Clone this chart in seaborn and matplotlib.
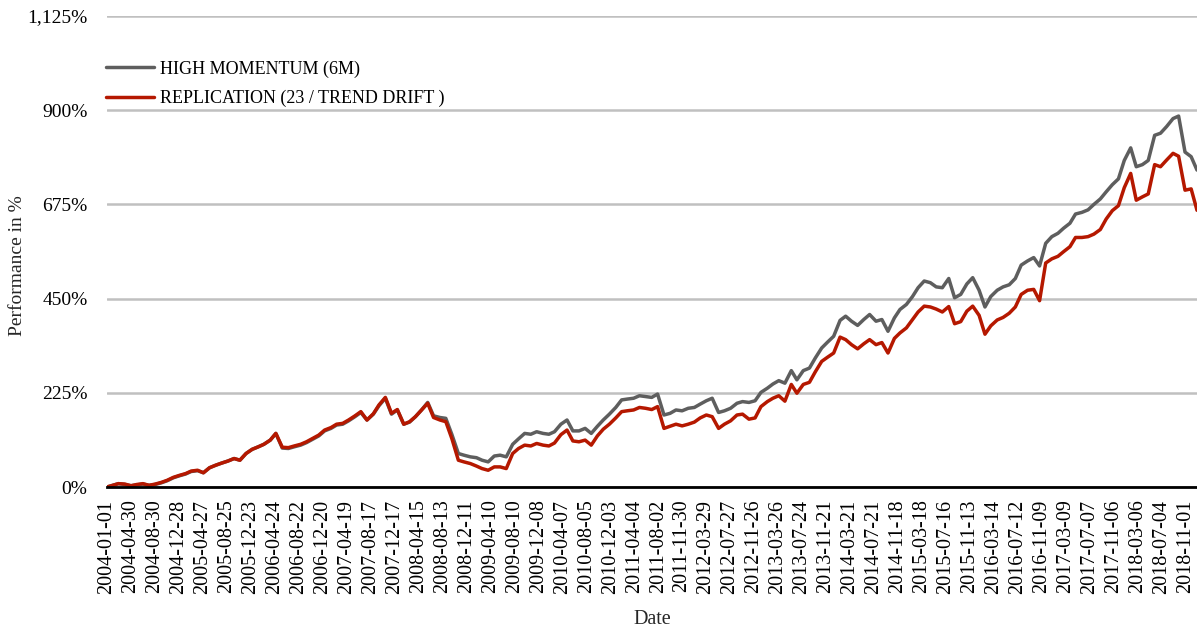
import numpy as np
import pandas as pd
import matplotlib
matplotlib.use("Agg")
import matplotlib.pyplot as plt
import seaborn as sns
from matplotlib.ticker import FuncFormatter

# ---------------- data (month-end values, % performance) ----------------
START = "2004-01-01"
END = "2018-12-31"
start_value = 0

hm_2004 = [4, 8, 6, 3, 5, 7, 4, 6, 10, 15, 22, 27]
hm_2005 = [31, 37, 39, 34, 46, 52, 57, 62, 68, 64, 80, 90]
hm_2006 = [96, 102, 112, 128, 93, 92, 96, 100, 106, 114, 122, 134]
hm_2007 = [140, 148, 150, 158, 168, 178, 160, 174, 194, 212, 174, 184]
hm_2008 = [150, 155, 168, 184, 202, 170, 166, 164, 125, 80, 76, 72]
hm_2009 = [70, 64, 60, 74, 76, 72, 102, 115, 128, 126, 132, 128]
hm_2010 = [126, 132, 150, 160, 134, 134, 140, 128, 145, 160, 174, 190]
hm_2011 = [208, 210, 212, 218, 216, 214, 222, 172, 176, 184, 182, 188]
hm_2012 = [190, 198, 206, 212, 178, 182, 188, 200, 204, 202, 206, 226]
hm_2013 = [236, 246, 254, 248, 278, 256, 278, 284, 308, 332, 346, 360]
hm_2014 = [398, 408, 396, 386, 400, 412, 396, 400, 372, 404, 424, 436]
hm_2015 = [455, 476, 492, 488, 478, 476, 498, 452, 460, 485, 500, 470]
hm_2016 = [430, 455, 470, 478, 483, 498, 530, 540, 548, 528, 582, 598]
hm_2017 = [606, 618, 630, 652, 656, 662, 675, 688, 705, 722, 736, 780]
hm_2018 = [810, 765, 770, 780, 840, 845, 861, 880, 886, 800, 789, 757]

rep_2004 = [4, 8, 7, 3, 6, 8, 4, 7, 11, 16, 23, 28]
rep_2005 = [32, 38, 40, 34, 46, 52, 57, 62, 68, 64, 80, 90]
rep_2006 = [96, 102, 112, 128, 95, 94, 98, 102, 108, 116, 124, 136]
rep_2007 = [142, 150, 152, 160, 170, 180, 160, 175, 196, 214, 176, 185]
rep_2008 = [150, 156, 168, 184, 200, 166, 160, 156, 115, 64, 60, 56]
rep_2009 = [50, 44, 40, 48, 48, 44, 80, 92, 100, 98, 104, 100]
rep_2010 = [98, 105, 125, 136, 110, 108, 112, 100, 122, 138, 150, 165]
rep_2011 = [180, 182, 184, 190, 188, 185, 192, 140, 145, 150, 146, 150]
rep_2012 = [155, 165, 172, 168, 140, 150, 158, 172, 174, 162, 165, 192]
rep_2013 = [204, 212, 218, 205, 245, 224, 245, 250, 275, 300, 310, 320]
rep_2014 = [358, 352, 340, 330, 342, 352, 340, 345, 320, 355, 368, 380]
rep_2015 = [400, 418, 432, 430, 425, 418, 431, 390, 395, 420, 432, 410]
rep_2016 = [365, 385, 399, 405, 415, 430, 460, 470, 472, 445, 535, 545]
rep_2017 = [551, 562, 574, 596, 596, 598, 604, 615, 640, 660, 672, 715]
rep_2018 = [749, 685, 693, 700, 770, 765, 781, 797, 790, 709, 712, 661]

series_names = ["HIGH MOMENTUM (6M)", "REPLICATION (23 / TREND DRIFT )"]
series_colors = ["#5e5e5e", "#b51800"]

tick_labels = [
    "2004-01-01", "2004-04-30", "2004-08-30", "2004-12-28", "2005-04-27",
    "2005-08-25", "2005-12-23", "2006-04-24", "2006-08-22", "2006-12-20",
    "2007-04-19", "2007-08-17", "2007-12-17", "2008-04-15", "2008-08-13",
    "2008-12-11", "2009-04-10", "2009-08-10", "2009-12-08", "2010-04-07",
    "2010-08-05", "2010-12-03", "2011-04-04", "2011-08-02", "2011-11-30",
    "2012-03-29", "2012-07-27", "2012-11-26", "2013-03-26", "2013-07-24",
    "2013-11-21", "2014-03-21", "2014-07-21", "2014-11-18", "2015-03-18",
    "2015-07-16", "2015-11-13", "2016-03-14", "2016-07-12", "2016-11-09",
    "2017-03-09", "2017-07-07", "2017-11-06", "2018-03-06", "2018-07-04",
    "2018-11-01",
]
y_ticks = [0, 225, 450, 675, 900, 1125]

# ---------------- build positions on a business-day category axis ----------------
bdays = pd.bdate_range(START, END)
pos = pd.Series(np.arange(len(bdays)), index=bdays)
month_end_pos = pos.groupby([bdays.year, bdays.month]).last().to_numpy()
x_pos = np.concatenate([[0], month_end_pos])

hm_vals = np.concatenate([[start_value], hm_2004, hm_2005, hm_2006, hm_2007, hm_2008,
                          hm_2009, hm_2010, hm_2011, hm_2012, hm_2013, hm_2014,
                          hm_2015, hm_2016, hm_2017, hm_2018])
rep_vals = np.concatenate([[start_value], rep_2004, rep_2005, rep_2006, rep_2007, rep_2008,
                           rep_2009, rep_2010, rep_2011, rep_2012, rep_2013, rep_2014,
                           rep_2015, rep_2016, rep_2017, rep_2018])

df = pd.DataFrame({
    "x": np.concatenate([x_pos, x_pos]),
    "val": np.concatenate([hm_vals, rep_vals]),
    "series": [series_names[0]] * len(x_pos) + [series_names[1]] * len(x_pos),
})

tick_pos = pos[pd.to_datetime(tick_labels)].to_numpy()

# ---------------- plot ----------------
sns.set_theme(style="white")
plt.rcParams["font.family"] = ["Liberation Serif", "DejaVu Serif"]

W, H = 1197, 631
fig = plt.figure(figsize=(W / 100, H / 100), dpi=100)
ax = fig.add_axes([107 / W, 1 - 487 / H, 1090 / W, 471 / H])

sns.lineplot(data=df, x="x", y="val", hue="series", hue_order=series_names,
             palette=dict(zip(series_names, series_colors)), linewidth=2.5,
             ax=ax, legend=False)

ax.set_xlim(0, len(bdays) - 1)
ax.set_ylim(0, 1125)
ax.set_yticks(y_ticks)
ax.yaxis.set_major_formatter(FuncFormatter(lambda v, p: f"{v:,.0f}%"))
ax.set_xticks(tick_pos)
ax.set_xticklabels(tick_labels, rotation=90)

ax.grid(axis="y", color="#c0c0c0", linewidth=1.8)
ax.grid(axis="x", visible=False)
ax.set_axisbelow(True)
for s in ["top", "right", "left"]:
    ax.spines[s].set_visible(False)
ax.spines["bottom"].set_color("black")
ax.spines["bottom"].set_linewidth(2)
ax.spines["bottom"].set_zorder(5)

ax.tick_params(axis="both", length=0, colors="black")
ax.tick_params(axis="x", pad=9, labelsize=14.5)
ax.tick_params(axis="y", pad=14, labelsize=14)

ax.set_xlabel("Date", fontsize=14.5)
ax.xaxis.set_label_coords(0.5, -(610 - 487) / 471)
ax.set_ylabel("Performance in %", fontsize=14)
ax.yaxis.set_label_coords((26 - 107) / 1090, 0.47)

lines = ax.get_lines()[:2]
leg = ax.legend(lines, series_names, loc="upper left", bbox_to_anchor=(-0.001, 0.906),
                frameon=False, fontsize=13, handlelength=2.65, handletextpad=0.35,
                labelspacing=0.67, borderaxespad=0, borderpad=0)
for t in leg.get_texts():
    t.set_color("black")

fig.savefig("out.png", dpi=100)
